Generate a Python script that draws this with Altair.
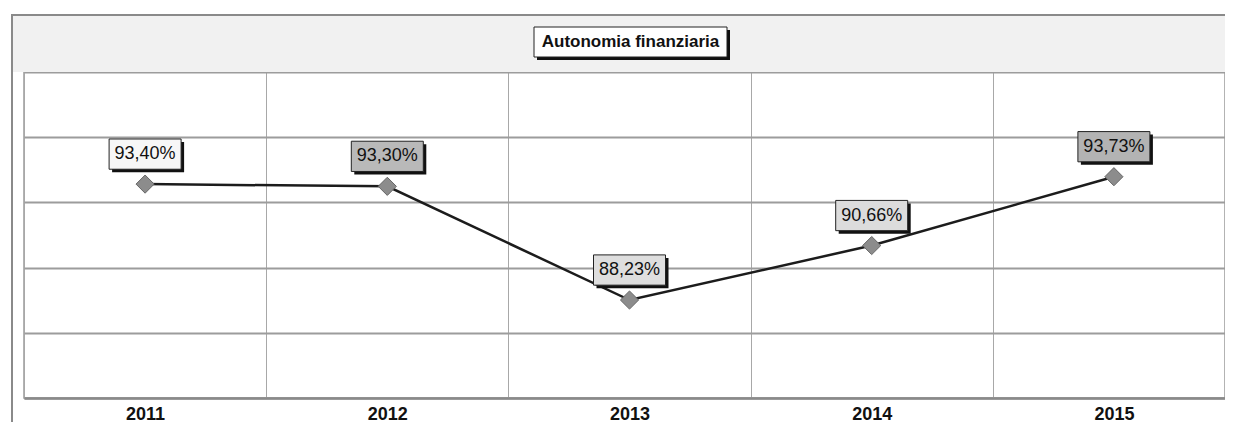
import altair as alt
import numpy as np
import pandas as pd

years = ["2011", "2012", "2013", "2014", "2015"]
values = [93.40, 93.30, 88.23, 90.66, 93.73]
labels = ["93,40%", "93,30%", "88,23%", "90,66%", "93,73%"]
title_text = "Autonomia finanziaria"

box_fills = ["#f7f7f7", "#b9b9b9", "#dedede", "#dcdcdc", "#b3b3b3"]

df = pd.DataFrame({"year": years, "value": values, "label": labels})
dummy = pd.DataFrame({"a": [0]})

W, H = 1201, 326
y_dom = [83.86, 98.4]
grid_vals = [float(v) for v in np.linspace(y_dom[0], y_dom[1], 6)]
FONT = "Liberation Sans"

x_enc = alt.X("year:N", sort=years,
              scale=alt.Scale(paddingInner=0, paddingOuter=0, range=[0, 1211]),
              axis=alt.Axis(title=None, labelAngle=0, labelFont=FONT, labelFontSize=18,
                            labelFontWeight="bold", labelColor="#111", labelPadding=7,
                            ticks=False, tickBand="extent", grid=True, gridColor="#a8a8a8",
                            gridWidth=1, domainColor="#8a8a8a", domainWidth=2.5))
y_enc = alt.Y("value:Q", scale=alt.Scale(domain=y_dom, nice=False, zero=False),
              axis=alt.Axis(title=None, labels=False, ticks=False, domain=False,
                            values=grid_vals, grid=True, gridColor="#9c9c9c", gridWidth=2))

# decorations (frame, top strip, title box)
strip = alt.Chart(dummy).mark_rect(color="#f1f1f1").encode(
    x=alt.value(-12), x2=alt.value(1230), y=alt.value(-57), y2=alt.value(0))
frame = alt.Chart(dummy).mark_rect(filled=False, stroke="#8a8a8a", strokeWidth=2).encode(
    x=alt.value(-12), x2=alt.value(1240), y=alt.value(-57), y2=alt.value(380))
tshadow = alt.Chart(dummy).mark_rect(color="#111").encode(
    x=alt.value(513), x2=alt.value(706), y=alt.value(-42), y2=alt.value(-12))
tbox = alt.Chart(dummy).mark_rect(fill="#ffffff", stroke="#222", strokeWidth=1).encode(
    x=alt.value(510), x2=alt.value(703), y=alt.value(-45), y2=alt.value(-15))
ttext = alt.Chart(dummy).mark_text(font=FONT, fontSize=17, fontWeight="bold",
                                   color="#111", baseline="middle").encode(
    x=alt.value(606.5), y=alt.value(-30), text=alt.value(title_text))

base = alt.Chart(df).encode(x=x_enc, y=y_enc)

line = base.mark_line(color="#1c1c1c", strokeWidth=2.5)
pts = base.mark_point(shape="diamond", filled=True, size=330, color="#8c8c8c",
                      stroke="#666", strokeWidth=1, opacity=1)

box_path = "M-1,-0.42L1,-0.42L1,0.42L-1,0.42Z"
BOX = 72
shadow = base.mark_point(shape=box_path, size=BOX * BOX, filled=True, color="#111",
                         opacity=1, xOffset=3, yOffset=-27)
box = base.mark_point(shape=box_path, size=BOX * BOX, filled=True, stroke="#222",
                      strokeWidth=1, opacity=1, yOffset=-30).encode(
    fill=alt.Fill("year:N", scale=alt.Scale(domain=years, range=box_fills), legend=None))
txt = base.mark_text(font=FONT, fontSize=18, color="#111", baseline="middle",
                     yOffset=-30).encode(text="label:N")

chart = alt.layer(strip, frame, line, pts, shadow, box, txt, tshadow, tbox, ttext).properties(
    width=W, height=H,
    padding={"left": 16, "top": 64, "right": 0, "bottom": 24},
    autosize=alt.AutoSizeParams(type="none"),
    background="#ffffff",
).configure_view(stroke="#9a9a9a", strokeWidth=1.5)

chart.save("out.html", embed_options={"renderer": "svg", "actions": False})
